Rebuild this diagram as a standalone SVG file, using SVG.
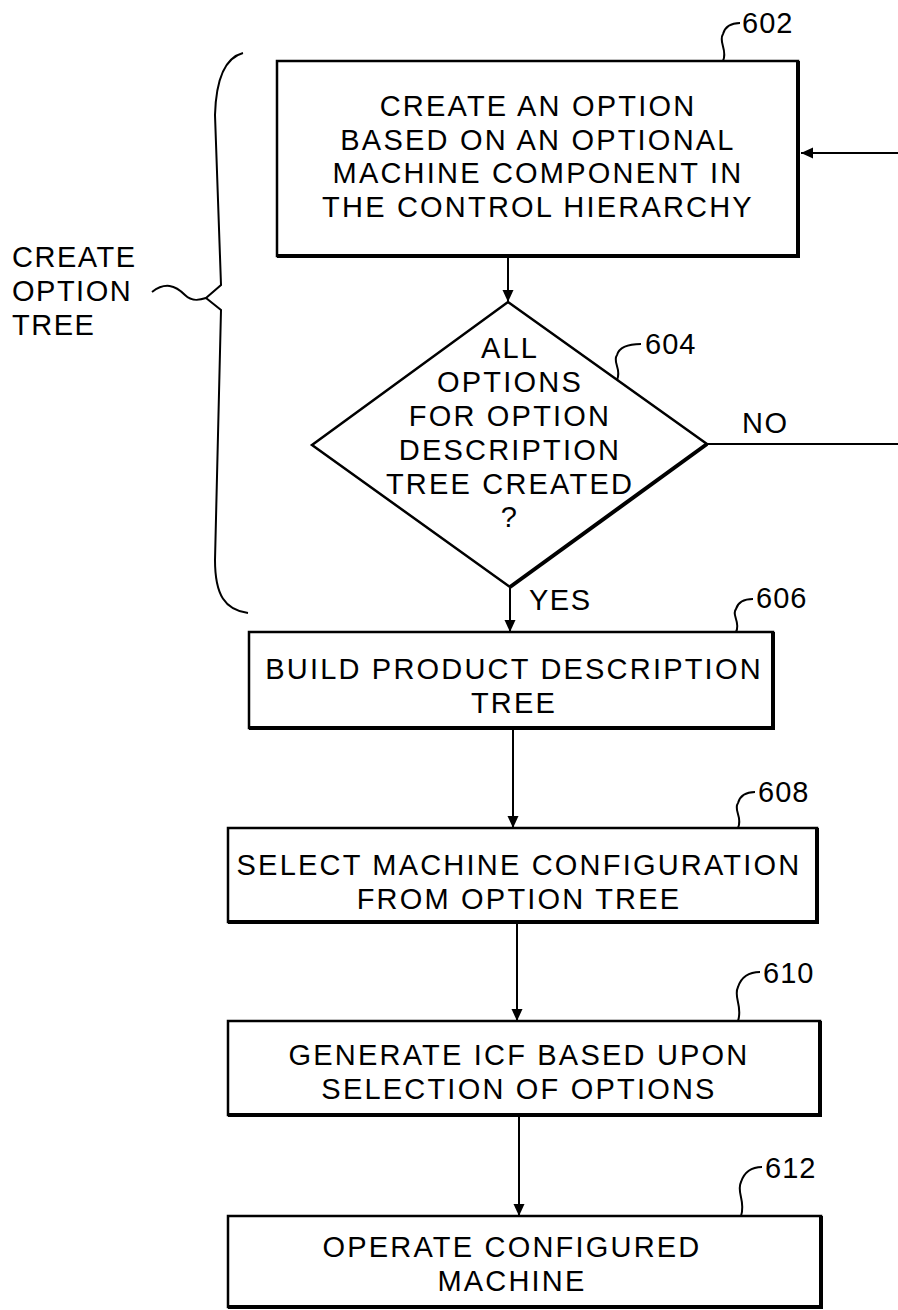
<svg xmlns="http://www.w3.org/2000/svg" width="898" height="1310" viewBox="0 0 898 1310">
<defs>
<style>
.box{fill:#fff;stroke:#000;stroke-width:2.5}
.edge{fill:none;stroke:#000;stroke-width:4}
.ln{fill:none;stroke:#000;stroke-width:2}
.lead{fill:none;stroke:#000;stroke-width:2}
.t{font-family:"Liberation Sans",Arial,sans-serif;font-size:29px;letter-spacing:2.2px;fill:#000;text-anchor:middle}
.tl{font-family:"Liberation Sans",Arial,sans-serif;font-size:29px;letter-spacing:1.5px;fill:#000;text-anchor:start}
.ref{font-family:"Liberation Sans",Arial,sans-serif;font-size:29px;letter-spacing:1px;fill:#000;text-anchor:start}
</style>
<marker id="ah" viewBox="0 0 12 14" refX="12" refY="7" markerWidth="12" markerHeight="14" markerUnits="userSpaceOnUse" orient="auto">
<path d="M0,1.5 L12,7 L0,12.5 Z" fill="#000"/>
</marker>
</defs>

<g id="connectors">
<line class="ln" x1="898" y1="153" x2="801" y2="153" marker-end="url(#ah)"/>
<line class="ln" x1="508" y1="257" x2="508" y2="302" marker-end="url(#ah)"/>
<line class="ln" x1="707" y1="444" x2="898" y2="444"/>
<line class="ln" x1="510" y1="588" x2="510" y2="632" marker-end="url(#ah)"/>
<line class="ln" x1="513" y1="729" x2="513" y2="828" marker-end="url(#ah)"/>
<line class="ln" x1="517" y1="923" x2="517" y2="1021" marker-end="url(#ah)"/>
<line class="ln" x1="519" y1="1116" x2="519" y2="1216" marker-end="url(#ah)"/>
</g>

<g id="brace">
<path class="ln" d="M243,53 C224,58 216,80 215,115 L221,285 L206,298 L221,310 L215,560 C215,595 225,610 248,613"/>
<path class="lead" d="M152,292 C165,282 175,285 185,295 C192,302 200,300 206,298"/>
</g>

<g id="label-create">
<text class="tl" x="12" y="267">CREATE</text>
<text class="tl" x="12" y="301">OPTION</text>
<text class="tl" x="12" y="335">TREE</text>
</g>

<g id="n602">
<rect class="box" x="277" y="61" width="521" height="195"/>
<polyline class="edge" points="798,61 798,256 277,256"/>
<text class="t" x="538" y="116">CREATE AN OPTION</text>
<text class="t" x="538" y="150">BASED ON AN OPTIONAL</text>
<text class="t" x="538" y="183">MACHINE COMPONENT IN</text>
<text class="t" x="538" y="217">THE CONTROL HIERARCHY</text>
<path class="lead" d="M723,61 C728,50 718,42 723,34 C725,27 731,23 740,23"/>
<text class="ref" x="742" y="33">602</text>
</g>

<g id="n604">
<polygon class="box" points="508,302 707,444 510,587 312,445"/>
<line class="edge" x1="707" y1="444" x2="510" y2="587"/>
<text class="t" x="510" y="358">ALL</text>
<text class="t" x="510" y="392">OPTIONS</text>
<text class="t" x="510" y="426">FOR OPTION</text>
<text class="t" x="510" y="460">DESCRIPTION</text>
<text class="t" x="510" y="494">TREE CREATED</text>
<text class="t" x="510" y="527">?</text>
<path class="lead" d="M617,380 C622,369 612,362 617,355 C619,348 626,344 641,344"/>
<text class="ref" x="645" y="354">604</text>
<text class="tl" x="742" y="433">NO</text>
<text class="tl" x="529" y="610">YES</text>
</g>

<g id="n606">
<rect class="box" x="249" y="632" width="524" height="96"/>
<polyline class="edge" points="773,632 773,728 249,728"/>
<text class="t" x="514" y="679">BUILD PRODUCT DESCRIPTION</text>
<text class="t" x="514" y="713">TREE</text>
<path class="lead" d="M736,632 C741,622 731,615 736,609 C738,602 744,599 753,599"/>
<text class="ref" x="756" y="608">606</text>
</g>

<g id="n608">
<rect class="box" x="228" y="828" width="589" height="94"/>
<polyline class="edge" points="817,828 817,922 228,922"/>
<text class="t" x="519" y="875">SELECT MACHINE CONFIGURATION</text>
<text class="t" x="519" y="909">FROM OPTION TREE</text>
<path class="lead" d="M738,828 C743,817 733,810 738,803 C740,796 746,792 755,792"/>
<text class="ref" x="758" y="802">608</text>
</g>

<g id="n610">
<rect class="box" x="228" y="1021" width="592" height="94"/>
<polyline class="edge" points="820,1021 820,1115 228,1115"/>
<text class="t" x="519" y="1065">GENERATE ICF BASED UPON</text>
<text class="t" x="519" y="1099">SELECTION OF OPTIONS</text>
<path class="lead" d="M738,1021 C743,1006 733,997 738,987 C741,978 748,972 760,972"/>
<text class="ref" x="763" y="983">610</text>
</g>

<g id="n612">
<rect class="box" x="228" y="1216" width="593" height="91"/>
<polyline class="edge" points="821,1216 821,1307 228,1307"/>
<text class="t" x="512" y="1257">OPERATE CONFIGURED</text>
<text class="t" x="512" y="1291">MACHINE</text>
<path class="lead" d="M741,1216 C746,1201 736,1192 741,1182 C744,1173 751,1167 762,1167"/>
<text class="ref" x="765" y="1178">612</text>
</g>
</svg>
